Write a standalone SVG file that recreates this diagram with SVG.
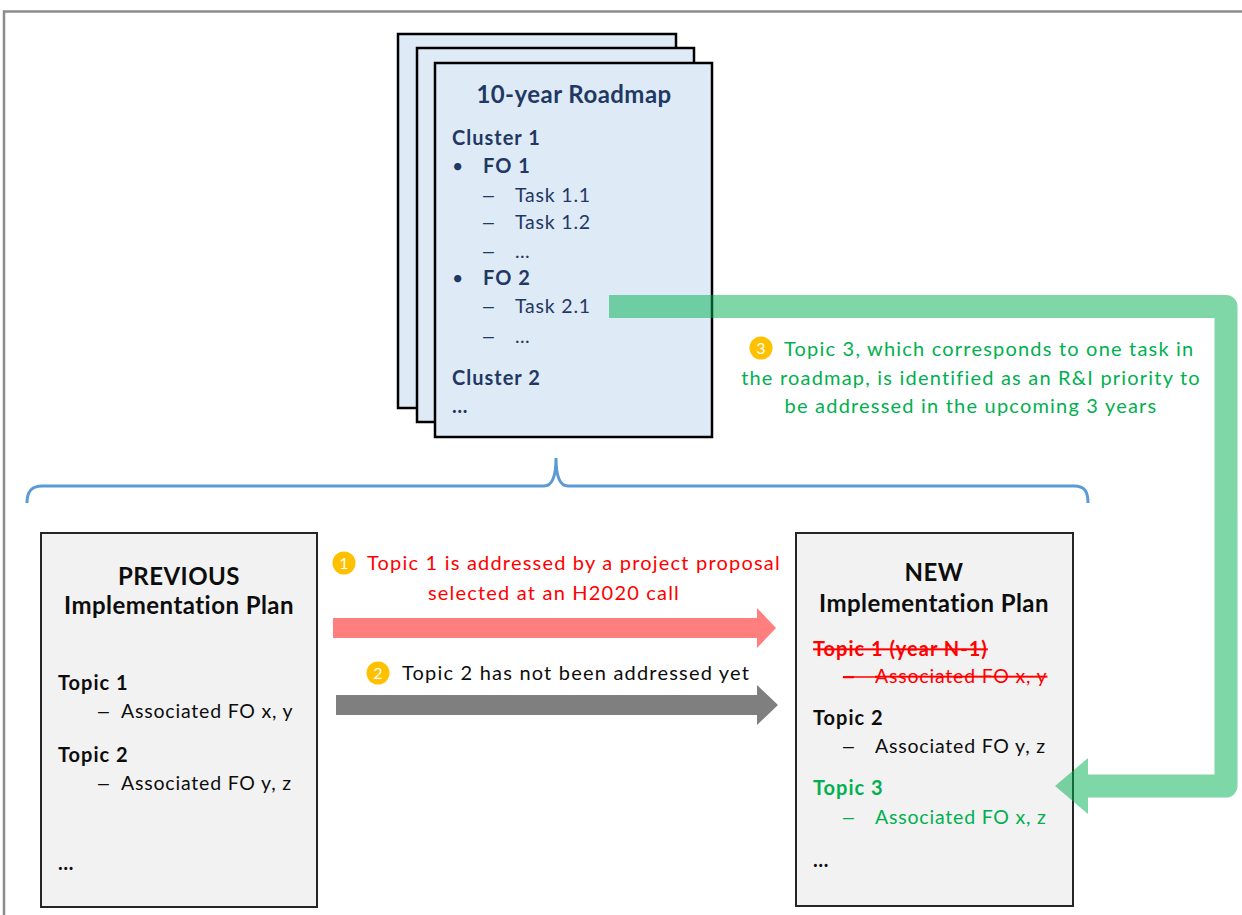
<svg xmlns="http://www.w3.org/2000/svg" width="1242" height="915" viewBox="0 0 1242 915">
<style>
  text { font-family: Lato, "Liberation Sans", sans-serif; }
  .navy { fill: #1F3864; }
  .page { fill: #DEEBF7; stroke: #000; stroke-width: 2.5; }
  .plan { fill: #F2F2F2; stroke: #262626; stroke-width: 2; }
  .h { font-size: 24px; font-weight: bold; letter-spacing: 0.45px; }
  .b { font-size: 20px; font-weight: bold; letter-spacing: 1px; }
  .r { font-size: 19.5px; letter-spacing: 0.8px; }
  .d { font-family: "Liberation Sans", sans-serif; font-size: 19.5px; }
  .l { font-size: 20px; letter-spacing: 1.2px; }
  .badge { fill: #FFC000; }
  .bn { fill: #fff; font-size: 16px; text-anchor: middle; }
  .red { fill: #FF0000; }
  .grn { fill: #00B050; }
  .blk { fill: #0D0D0D; }
</style>
<rect x="0" y="0" width="1242" height="915" fill="#fff"/>
<path d="M4,915 V11.5 H1242" fill="none" stroke="#8C8C8C" stroke-width="2.5"/>

<g id="roadmap">
  <rect class="page" x="398" y="34" width="278" height="374"/>
  <rect class="page" x="417" y="48" width="277" height="374"/>
  <rect class="page" x="435" y="63" width="277" height="374"/>
  <g class="navy">
    <text class="h" x="574" y="103" text-anchor="middle">10-year Roadmap</text>
    <text class="b" x="452" y="145" font-size="21">Cluster 1</text>
    <text class="r" x="452" y="173">•</text><text class="b" x="483" y="173">FO 1</text>
    <text class="d" x="483" y="202">–</text><text class="r" x="515" y="202">Task 1.1</text>
    <text class="d" x="483" y="229">–</text><text class="r" x="515" y="229">Task 1.2</text>
    <text class="d" x="483" y="258">–</text><text class="r" x="515" y="258">…</text>
    <text class="r" x="452" y="285">•</text><text class="b" x="483" y="285">FO 2</text>
    <text class="d" x="483" y="313">–</text><text class="r" x="515" y="313">Task 2.1</text>
    <text class="d" x="483" y="343">–</text><text class="r" x="515" y="343">…</text>
    <text class="b" x="452" y="385" font-size="21">Cluster 2</text>
    <text class="b" x="452" y="413">…</text>
  </g>
</g>

<g id="brace">
  <path d="M27,503 C27,492 31,486 42,486 H544 C551,486 556,478 556,458 C556,478 561,486 568,486 H1074 C1085,486 1088,492 1088,503" fill="none" stroke="#5B9BD5" stroke-width="3"/>
</g>

<g id="previous-plan">
  <rect class="plan" x="41" y="533" width="276" height="374"/>
  <g class="blk">
    <text class="h" x="179" y="585" text-anchor="middle">PREVIOUS</text>
    <text class="h" x="179" y="614" text-anchor="middle">Implementation Plan</text>
    <text class="b" x="58" y="690">Topic 1</text>
    <text class="d" x="98" y="718">–</text><text class="r" x="121" y="718">Associated FO x, y</text>
    <text class="b" x="58" y="762">Topic 2</text>
    <text class="d" x="98" y="790">–</text><text class="r" x="121" y="790">Associated FO y, z</text>
    <text class="b" x="58" y="870">…</text>
  </g>
</g>

<g id="new-plan">
  <rect class="plan" x="796" y="533" width="277" height="373"/>
  <g class="blk">
    <text class="h" x="934" y="581" text-anchor="middle">NEW</text>
    <text class="h" x="934" y="612" text-anchor="middle">Implementation Plan</text>
  </g>
  <g class="red">
    <text class="b" x="813" y="656" text-decoration="line-through">Topic 1 (year N-1)</text>
    <text class="d" x="843" y="683" text-decoration="line-through">–</text>
    <text class="r" x="875" y="683" text-decoration="line-through">Associated FO x, y</text>
    <line x1="850" y1="677" x2="877" y2="677" stroke="#FF0000" stroke-width="1.5"/>
  </g>
  <g class="blk">
    <text class="b" x="813" y="725">Topic 2</text>
    <text class="d" x="843" y="753">–</text><text class="r" x="875" y="753">Associated FO y, z</text>
  </g>
  <g class="grn">
    <text class="b" x="813" y="795">Topic 3</text>
    <text class="d" x="843" y="824">–</text><text class="r" x="875" y="824">Associated FO x, z</text>
  </g>
  <text class="b blk" x="813" y="867">…</text>
</g>

<g id="connectors">
  <polygon points="333,618 757,618 757,608 776,628 757,648 757,638 333,638" fill="#FF7F7F"/>
  <polygon points="336,695 757,695 757,685 778,705 757,725 757,715 336,715" fill="#7F7F7F"/>
  <g opacity="0.5">
    <path d="M609,306.5 H1226 V786 H1088" fill="none" stroke="#00B050" stroke-width="23" stroke-linejoin="round"/>
    <polygon points="1088,758 1055,786 1088,814" fill="#00B050"/>
  </g>
</g>

<g id="label-1">
  <circle class="badge" cx="344" cy="563" r="11.5"/>
  <text class="bn" x="344" y="569">1</text>
  <text class="red l" x="367" y="570">Topic 1 is addressed by a project proposal</text>
  <text class="red l" x="554" y="600" text-anchor="middle">selected at an H2020 call</text>
</g>
<g id="label-2">
  <circle class="badge" cx="378" cy="673" r="11.5"/>
  <text class="bn" x="378" y="679">2</text>
  <text class="blk l" x="402" y="680">Topic 2 has not been addressed yet</text>
</g>
<g id="label-3">
  <circle class="badge" cx="761" cy="348" r="11.5"/>
  <text class="bn" x="761" y="354">3</text>
  <text class="grn l" x="784" y="356">Topic 3, which corresponds to one task in</text>
  <text class="grn l" x="971" y="385" text-anchor="middle">the roadmap, is identified as an R&amp;I priority to</text>
  <text class="grn l" x="971" y="413" text-anchor="middle">be addressed in the upcoming 3 years</text>
</g>
</svg>
